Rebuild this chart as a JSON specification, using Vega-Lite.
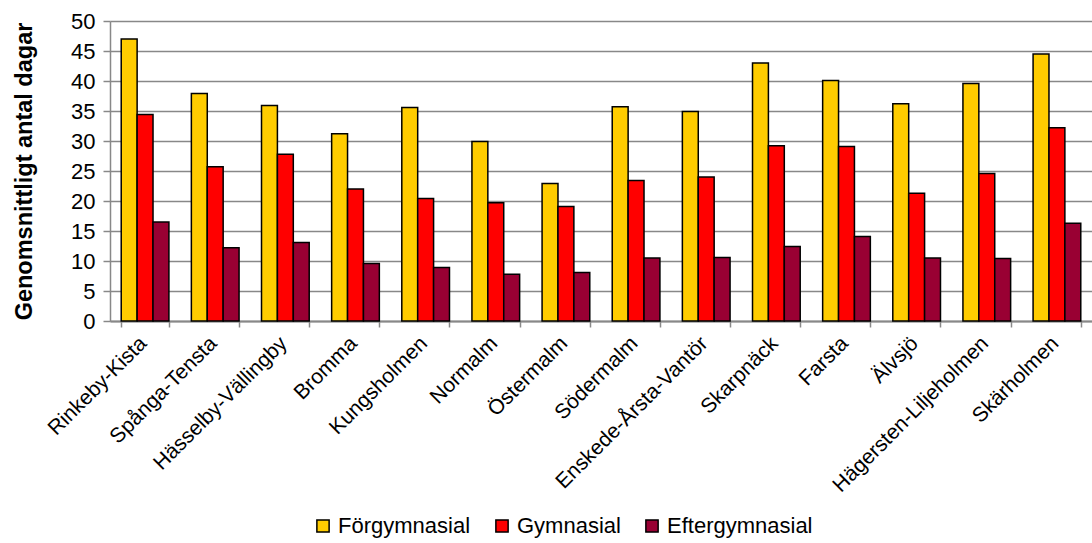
{
  "$schema": "https://vega.github.io/schema/vega-lite/v6.json",
  "width": 982,
  "height": 300,
  "autosize": {"type": "none"},
  "padding": {"left": 110, "top": 21, "right": 0, "bottom": 222},
  "background": "white",
  "config": {
    "view": {"stroke": null},
    "font": "Liberation Sans"
  },
  "data": {
    "values": [
      {"district": "Rinkeby-Kista", "level": "Förgymnasial", "value": 47.0},
      {"district": "Rinkeby-Kista", "level": "Gymnasial", "value": 34.4},
      {"district": "Rinkeby-Kista", "level": "Eftergymnasial", "value": 16.5},
      {"district": "Spånga-Tensta", "level": "Förgymnasial", "value": 37.9},
      {"district": "Spånga-Tensta", "level": "Gymnasial", "value": 25.7},
      {"district": "Spånga-Tensta", "level": "Eftergymnasial", "value": 12.2},
      {"district": "Hässelby-Vällingby", "level": "Förgymnasial", "value": 35.9},
      {"district": "Hässelby-Vällingby", "level": "Gymnasial", "value": 27.8},
      {"district": "Hässelby-Vällingby", "level": "Eftergymnasial", "value": 13.1},
      {"district": "Bromma", "level": "Förgymnasial", "value": 31.2},
      {"district": "Bromma", "level": "Gymnasial", "value": 22.0},
      {"district": "Bromma", "level": "Eftergymnasial", "value": 9.6},
      {"district": "Kungsholmen", "level": "Förgymnasial", "value": 35.6},
      {"district": "Kungsholmen", "level": "Gymnasial", "value": 20.4},
      {"district": "Kungsholmen", "level": "Eftergymnasial", "value": 8.9},
      {"district": "Normalm", "level": "Förgymnasial", "value": 29.9},
      {"district": "Normalm", "level": "Gymnasial", "value": 19.7},
      {"district": "Normalm", "level": "Eftergymnasial", "value": 7.8},
      {"district": "Östermalm", "level": "Förgymnasial", "value": 22.9},
      {"district": "Östermalm", "level": "Gymnasial", "value": 19.1},
      {"district": "Östermalm", "level": "Eftergymnasial", "value": 8.1},
      {"district": "Södermalm", "level": "Förgymnasial", "value": 35.7},
      {"district": "Södermalm", "level": "Gymnasial", "value": 23.4},
      {"district": "Södermalm", "level": "Eftergymnasial", "value": 10.5},
      {"district": "Enskede-Årsta-Vantör", "level": "Förgymnasial", "value": 34.9},
      {"district": "Enskede-Årsta-Vantör", "level": "Gymnasial", "value": 24.0},
      {"district": "Enskede-Årsta-Vantör", "level": "Eftergymnasial", "value": 10.6},
      {"district": "Skarpnäck", "level": "Förgymnasial", "value": 43.0},
      {"district": "Skarpnäck", "level": "Gymnasial", "value": 29.2},
      {"district": "Skarpnäck", "level": "Eftergymnasial", "value": 12.4},
      {"district": "Farsta", "level": "Förgymnasial", "value": 40.1},
      {"district": "Farsta", "level": "Gymnasial", "value": 29.1},
      {"district": "Farsta", "level": "Eftergymnasial", "value": 14.1},
      {"district": "Älvsjö", "level": "Förgymnasial", "value": 36.2},
      {"district": "Älvsjö", "level": "Gymnasial", "value": 21.3},
      {"district": "Älvsjö", "level": "Eftergymnasial", "value": 10.5},
      {"district": "Hägersten-Liljeholmen", "level": "Förgymnasial", "value": 39.6},
      {"district": "Hägersten-Liljeholmen", "level": "Gymnasial", "value": 24.6},
      {"district": "Hägersten-Liljeholmen", "level": "Eftergymnasial", "value": 10.4},
      {"district": "Skärholmen", "level": "Förgymnasial", "value": 44.5},
      {"district": "Skärholmen", "level": "Gymnasial", "value": 32.2},
      {"district": "Skärholmen", "level": "Eftergymnasial", "value": 16.3}
    ]
  },
  "mark": {"type": "bar", "stroke": "black", "strokeWidth": 1.5},
  "encoding": {
    "x": {
      "field": "district",
      "type": "nominal",
      "sort": null,
      "scale": {"paddingInner": 0.32, "paddingOuter": 0.16},
      "axis": {
        "title": null,
        "tickBand": "extent",
        "labelAngle": -45,
        "labelAlign": "right",
        "labelBaseline": "middle",
        "labelFontSize": 21,
        "labelLimit": 0,
        "labelOverlap": false,
        "labelColor": "black",
        "labelPadding": 13,
        "labelOffset": -2,
        "tickSize": 6,
        "tickColor": "#888888",
        "tickWidth": 1.5,
        "domainColor": "#888888",
        "domainWidth": 2,
        "grid": false
      }
    },
    "xOffset": {
      "field": "level",
      "type": "nominal",
      "sort": ["Förgymnasial", "Gymnasial", "Eftergymnasial"],
      "scale": {"paddingInner": 0, "paddingOuter": 0}
    },
    "y": {
      "field": "value",
      "type": "quantitative",
      "scale": {"domain": [0, 50], "nice": false},
      "axis": {
        "title": "Genomsnittligt antal dagar",
        "titleFontSize": 23.5,
        "titleFontWeight": "bold",
        "titleColor": "black",
        "titleX": -86,
        "titleY": 150,
        "titleAngle": -90,
        "titleAlign": "center",
        "titleBaseline": "middle",
        "values": [0, 5, 10, 15, 20, 25, 30, 35, 40, 45, 50],
        "labelFontSize": 22,
        "labelColor": "black",
        "labelPadding": 8,
        "tickSize": 7,
        "tickColor": "#888888",
        "tickWidth": 1.5,
        "domainColor": "#888888",
        "domainWidth": 1.5,
        "grid": true,
        "gridColor": "#888888",
        "gridWidth": 1.5
      }
    },
    "color": {
      "field": "level",
      "type": "nominal",
      "sort": ["Förgymnasial", "Gymnasial", "Eftergymnasial"],
      "scale": {
        "domain": ["Förgymnasial", "Gymnasial", "Eftergymnasial"],
        "range": ["#FFCC00", "#FF0000", "#990033"]
      },
      "legend": {
        "title": null,
        "orient": "none",
        "direction": "horizontal",
        "legendX": 202,
        "legendY": 494,
        "symbolType": "square",
        "symbolSize": 150,
        "symbolStrokeColor": "black",
        "symbolStrokeWidth": 1.5,
        "symbolOpacity": 1,
        "labelFontSize": 22,
        "labelColor": "black",
        "labelOffset": 4,
        "columnPadding": 20
      }
    }
  }
}
